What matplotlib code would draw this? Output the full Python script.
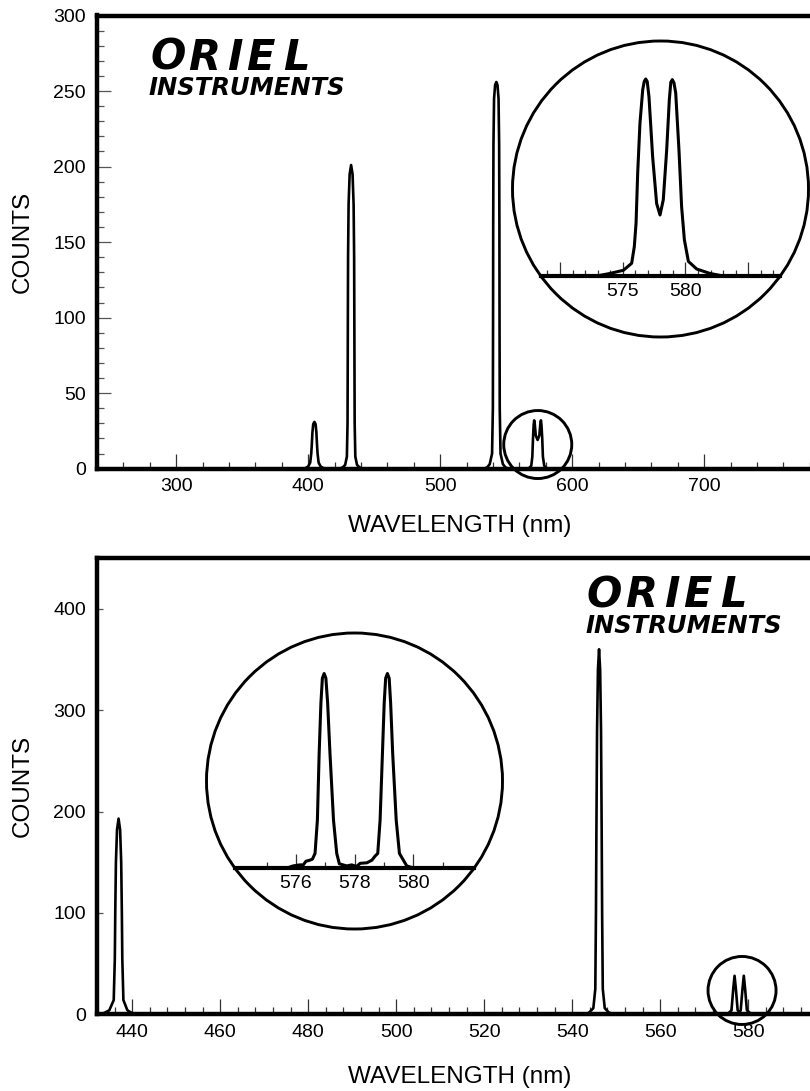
import matplotlib
matplotlib.use("Agg")
import matplotlib.pyplot as plt
from matplotlib.patches import Circle
from matplotlib.ticker import MultipleLocator, FixedLocator, NullFormatter

plt.rcParams['font.family'] = ['Liberation Sans', 'DejaVu Sans']

# ---------------- data ----------------
# Top panel: survey spectrum (wavelength nm, counts)
top_wl = [240, 396.0, 398.0, 400.0, 401.5, 402.3, 402.7, 403.2, 403.8, 404.7, 405.6, 406.2, 406.7,
          407.1, 407.9, 409.4, 411.4, 413.5,
          423.5, 426.0, 428.0, 429.3, 429.8, 429.95, 430.05, 430.2, 430.6, 431.4, 432.5, 433.6,
          434.4, 434.8, 434.95, 435.05, 435.2, 435.7, 437.0, 439.0, 441.5,
          533.0, 535.5, 537.5, 539.3, 539.9, 540.05, 540.15, 540.35, 540.8, 541.6, 542.5, 543.4,
          544.2, 544.65, 544.85, 544.95, 545.1, 545.7, 547.5, 549.5, 552.0,
          565.5, 567.5, 569.0, 569.8, 570.3, 570.8, 571.2, 571.7, 572.4, 573.8, 575.1, 575.8,
          576.3, 576.7, 577.3, 577.8, 578.8, 580.3, 582.3, 790]
top_counts = [0, 0, 0.4, 1.5, 4, 10, 15.5, 24, 29.5, 31, 29.5, 24, 15.5,
              10, 4, 1.5, 0.4, 0,
              0, 0.8, 2.5, 8, 30, 70, 100, 140, 175, 195, 201, 195,
              175, 140, 100, 70, 30, 8, 2.5, 0.8, 0,
              0, 0.8, 3, 10, 40, 100, 160, 215, 245, 254, 256, 254,
              245, 215, 160, 100, 40, 10, 3, 0.8, 0,
              0, 0.5, 2, 8, 20, 29, 32, 29, 22, 19, 22, 29,
              32, 29, 20, 8, 2, 0.5, 0, 0]

# Top inset: 577/579 nm doublet (low resolution)
top_in_wl = [572.92, 573.98, 575.05, 575.71, 575.92, 576.06, 576.19, 576.37, 576.59, 576.71,
             576.83, 576.95, 577.09, 577.38, 577.70, 577.97, 578.23, 578.50, 578.71, 578.83,
             578.95, 579.08, 579.22, 579.48, 579.69, 579.91, 580.23, 580.89, 581.95, 583.0]
top_in_counts = [0, 0.4, 0.9, 2.0, 4.6, 8.3, 16.2, 24.0, 29.3, 30.6,
                 31.0, 30.6, 28.2, 18.8, 11.4, 9.6, 12.0, 19.8, 27.7, 30.5,
                 30.9, 30.4, 28.8, 19.8, 10.9, 5.7, 2.3, 1.1, 0.4, 0]

# Bottom panel: higher resolution spectrum
bot_wl = [432.0, 433.5, 434.8, 435.8, 436.05, 436.15, 436.3, 436.55, 436.9, 437.25, 437.5,
          437.65, 437.75, 438.0, 438.9, 440.0, 441.2,
          542.8, 543.8, 544.8, 545.25, 545.4, 545.5, 545.65, 545.85, 546.1, 546.35, 546.55,
          546.7, 546.8, 546.95, 547.4, 548.4, 549.8,
          574.5, 575.5, 576.2, 576.6, 576.9, 577.2, 577.6, 578.0, 578.3, 578.7, 579.0, 579.3,
          579.7, 580.5, 581.5, 597.0]
bot_counts = [0, 1, 4, 14, 55, 100, 150, 182, 193, 182, 150,
              100, 55, 14, 4, 1, 0,
              0, 1.5, 6, 25, 100, 180, 280, 340, 360, 340, 280,
              180, 100, 25, 6, 1.5, 0,
              0, 1, 4, 25, 38, 25, 4, 2, 4, 25, 38, 25,
              4, 1, 0, 0]

# Bottom inset: resolved doublet
bot_in_wl = [575.70, 575.90, 576.13, 576.25, 576.34, 576.47, 576.56, 576.65, 576.73, 576.79,
             576.85, 576.90, 576.96, 577.02, 577.08, 577.16, 577.28, 577.39, 577.48, 577.73,
             577.90, 578.07, 578.19, 578.42, 578.59, 578.70, 578.79, 578.87, 578.95, 579.01,
             579.06, 579.12, 579.18, 579.23, 579.30, 579.42, 579.53, 579.78, 580.01]
bot_in_counts = [0, 0.4, 0.6, 0.6, 1.3, 1.5, 1.7, 2.8, 9.2, 22.0,
                 31.7, 36.5, 37.4, 36.5, 31.7, 22.0, 9.2, 2.8, 0.8, 0.4,
                 0.6, 0.3, 0.9, 1.0, 1.5, 2.3, 2.8, 9.2, 22.0, 31.7,
                 36.5, 37.4, 36.5, 31.7, 22.0, 9.2, 2.8, 0.4, 0]

top_xticks = [300, 400, 500, 600, 700]
top_yticks = [0, 50, 100, 150, 200, 250, 300]
bot_xticks = [440, 460, 480, 500, 520, 540, 560, 580]
bot_yticks = [0, 100, 200, 300, 400]
top_in_ticks = [570, 575, 580, 585]
top_in_labels = ['', '575', '580', '']
bot_in_ticks = [576, 578, 580]
xlabel = 'WAVELENGTH (nm)'
ylabel = 'COUNTS'

# ---------------- layout (pixels) ----------------
W, H = 810, 1091
fig = plt.figure(figsize=(W / 100, H / 100), dpi=100)


def px_axes(l, t, r, b, **kw):
    return fig.add_axes([l / W, 1 - b / H, (r - l) / W, (b - t) / H], **kw)


TICKFS = 14
LABFS = 17.5
SPINE = 3.2


def style_main(ax, xmaj, xmin, ymaj, ymin, xl, yl, yminor=True):
    ax.set_xlim(*xl)
    ax.set_ylim(*yl)
    for s in ['top', 'left', 'bottom']:
        ax.spines[s].set_linewidth(SPINE)
    ax.spines['right'].set_visible(False)
    ax.xaxis.set_major_locator(FixedLocator(xmaj))
    ax.xaxis.set_minor_locator(MultipleLocator(xmin))
    ax.yaxis.set_major_locator(FixedLocator(ymaj))
    if yminor:
        ax.yaxis.set_minor_locator(MultipleLocator(ymin))
    ax.tick_params(axis='x', which='major', direction='in', length=11, width=0.9,
                   color='#333333', pad=7, labelsize=TICKFS)
    ax.tick_params(axis='x', which='minor', direction='in', length=5, width=0.9,
                   color='#333333')
    ax.tick_params(axis='y', which='major', direction='in', length=10, width=0.9,
                   color='#555555', pad=8, labelsize=TICKFS)
    ax.tick_params(axis='y', which='minor', direction='in', length=5, width=0.9,
                   color='#555555')
    ax.tick_params(top=False, right=False, which='both')
    ax.set_xlabel(xlabel, fontsize=LABFS)
    ax.set_ylabel(ylabel, fontsize=LABFS)
    ax.yaxis.label.set_va('center')


# Top main axes
ax1 = px_axes(97, 15.5, 823, 468.7)
style_main(ax1, top_xticks, 20, top_yticks, 10, (240, 790), (0, 300))
ax1.plot(top_wl, top_counts, color='k', lw=1.9, solid_joinstyle='round', solid_capstyle='round')
ax1.xaxis.set_label_coords(0.499, -0.103)
ax1.yaxis.set_label_coords(-0.102, 0.5)

# Bottom main axes
ax2 = px_axes(97, 558, 823, 1014.3)
style_main(ax2, bot_xticks, 4, bot_yticks, 100, (432, 597), (0, 450), yminor=False)
ax2.tick_params(axis='y', which='major', length=4)
ax2.plot(bot_wl, bot_counts, color='k', lw=1.9, solid_joinstyle='round', solid_capstyle='round')
ax2.xaxis.set_label_coords(0.499, -0.114)
ax2.yaxis.set_label_coords(-0.102, 0.5)

# ---------------- magnifier insets ----------------
R_BIG = 148
DY = 87  # baseline distance below circle centre
big_circles = [(660.5, 189), (354.5, 781)]


def inset(cx, cy, top_px, xl_fn):
    half = (R_BIG ** 2 - DY ** 2) ** 0.5
    l, r, b = cx - half, cx + half, cy + DY
    a = px_axes(l, top_px, r, b)
    a.patch.set_visible(False)
    for s in ['top', 'left', 'right']:
        a.spines[s].set_visible(False)
    a.spines['bottom'].set_linewidth(3.0)
    a.set_xlim(xl_fn(l), xl_fn(r))
    a.tick_params(axis='x', which='major', direction='in', length=10, width=0.9,
                  color='#333333', pad=5, labelsize=TICKFS)
    a.tick_params(axis='x', which='minor', direction='in', length=4.5, width=0.9,
                  color='#333333')
    a.set_yticks([])
    return a


# top inset: 12.55 px per nm, 570 nm at x = 560 px
ai1 = inset(660.5, 189, 60, lambda p: 570 + (p - 560) / 12.55)
ai1.set_ylim(0, 216 / 6.355)
ai1.set_xticks(top_in_ticks, labels=top_in_labels)
ai1.xaxis.set_minor_locator(MultipleLocator(1))
ai1.plot(top_in_wl, top_in_counts, color='k', lw=2.2, solid_joinstyle='round')

# bottom inset: 29.3 px per nm, 575 nm at x = 266.7 px
ai2 = inset(354.5, 781, 650, lambda p: 575 + (p - 266.7) / 29.3)
ai2.set_ylim(0, 218 / 5.2)
ai2.set_xticks(bot_in_ticks, labels=[str(t) for t in bot_in_ticks])
ai2.xaxis.set_minor_locator(FixedLocator([575, 577, 579, 581]))
ai2.xaxis.set_minor_formatter(NullFormatter())
ai2.plot(bot_in_wl, bot_in_counts, color='k', lw=2.2, solid_joinstyle='round')

# overlay in pixel coordinates for circles and logos
ov = fig.add_axes([0, 0, 1, 1], zorder=10)
ov.set_xlim(0, W)
ov.set_ylim(H, 0)
ov.axis('off')
ov.patch.set_visible(False)

for cx, cy in big_circles:
    ov.add_patch(Circle((cx, cy), R_BIG, fill=False, lw=2.1, ec='k', clip_on=False))


def small_circle(ax, lam, cnt):
    x, y = ax.transData.transform((lam, cnt))
    ov.add_patch(Circle((x, H - y), 34, fill=False, lw=2.1, ec='k', clip_on=False))


small_circle(ax1, 573.9, 16)
small_circle(ax2, 578.6, 23.5)


def logo(x0, base_oriel, base_instr):
    letters = 'ORIEL'
    offs = [0, 38, 77, 96, 133]
    for ch, o in zip(letters, offs):
        ov.text(x0 + o, base_oriel, ch, fontsize=30, fontweight='bold', fontstyle='oblique',
                family=['DejaVu Sans'], va='baseline', ha='left')
    ov.text(x0 - 2, base_instr, 'INSTRUMENTS', fontsize=17.5, fontweight='bold',
            fontstyle='oblique', family=['DejaVu Sans'], va='baseline', ha='left')


logo(150, 70, 95)
logo(587, 607, 633)

fig.savefig('out.png', dpi=100)
